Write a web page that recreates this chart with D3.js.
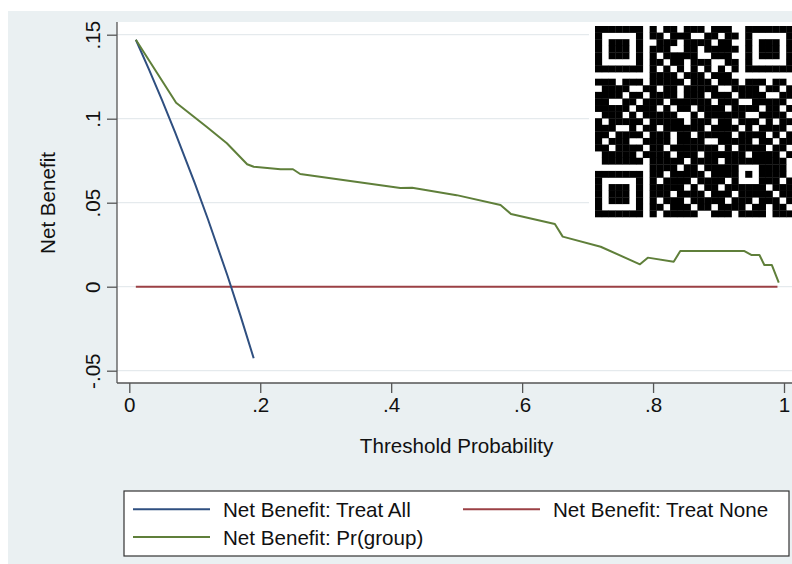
<!DOCTYPE html>
<html>
<head>
<meta charset="utf-8">
<script src="https://cdn.jsdelivr.net/npm/d3@7"></script>
<style>
  html, body { margin: 0; padding: 0; background: #fff; }
  text { font-family: "Liberation Sans", Arial, Helvetica, sans-serif; fill: #111; }
</style>
</head>
<body>
<div id="chart"></div>
<script>
// decision curve values
var treatAllX = [0.01, 0.03, 0.05, 0.07, 0.10, 0.12, 0.15, 0.17, 0.19];
var treatAllY = [0.147, 0.1294, 0.1111, 0.0919, 0.0617, 0.0403, 0.0065, -0.0175, -0.0426];

var treatNoneX = [0.01, 0.99];
var treatNoneY = [0, 0];

var groupX = [0.01, 0.0715, 0.118, 0.149, 0.180, 0.190, 0.231, 0.250, 0.261, 0.414, 0.432, 0.500, 0.567, 0.583, 0.650, 0.662, 0.720, 0.780, 0.792, 0.8315, 0.8416, 0.9396, 0.950, 0.9625, 0.970, 0.9815, 0.992];
var groupY = [0.147, 0.1095, 0.0952, 0.0854, 0.0729, 0.0714, 0.0699, 0.0699, 0.0671, 0.0588, 0.0589, 0.0545, 0.0486, 0.0433, 0.0373, 0.0298, 0.0238, 0.0133, 0.0173, 0.0149, 0.0212, 0.0212, 0.0189, 0.0189, 0.0129, 0.0129, 0.0024];

var xTicks = [0, 0.2, 0.4, 0.6, 0.8, 1];
var xTickLabels = ["0", ".2", ".4", ".6", ".8", "1"];
var yTicks = [-0.05, 0, 0.05, 0.1, 0.15];
var yTickLabels = ["-.05", "0", ".05", ".1", ".15"];

var seriesNames = ["Net Benefit: Treat All", "Net Benefit: Treat None", "Net Benefit: Pr(group)"];
var seriesColors = ["#2f4f80", "#9b4045", "#5f7f3a"];

// qr overlay in the top right corner, one string per module row
var qrRows = [
  "1111111" + "0" + "1011011101110" + "0" + "1111111",
  "1000001" + "0" + "1101110011011" + "0" + "1000001",
  "1011101" + "0" + "0111011110110" + "0" + "1011101",
  "1011101" + "0" + "1110011011111" + "0" + "1011101",
  "1011101" + "0" + "1011111001110" + "0" + "1011101",
  "1000001" + "0" + "1101101110011" + "0" + "1000001",
  "1111111" + "0" + "1010101010101" + "0" + "1111111",
  "00000000" + "1111011101110" + "00000000",
  "111011" + "1" + "0111110111011101110110",
  "011110" + "0" + "1101101111100111101101",
  "111101" + "1" + "0111101110111011110011",
  "110011" + "0" + "1110111111011100111110",
  "111110" + "1" + "1101011011110111101101",
  "011101" + "0" + "1111100101111110011110",
  "101111" + "1" + "0111110111011011101011",
  "111001" + "0" + "1101111110111101011110",
  "110111" + "1" + "0111011011111011110101",
  "101110" + "0" + "1111011110011111011011",
  "110111" + "1" + "0110111111101011110110",
  "011111" + "0" + "1111011101111110111101",
  "011111" + "1" + "0111110111101" + "11111" + "1110",
  "00000000" + "111101101111" + "10001" + "1110",
  "1111111" + "0" + "110111110111" + "10101" + "1110",
  "1000001" + "0" + "101111011110" + "10001" + "1101",
  "1011101" + "0" + "111110101101" + "11111" + "0111",
  "1011101" + "0" + "111011110111" + "011111011",
  "1011101" + "0" + "101110111110" + "111011101",
  "1000001" + "0" + "110111011011" + "110110110",
  "1111111" + "0" + "101111100111" + "011110111"
];

var W = 792, H = 564;
var FS = 20.6;
var svg = d3.select("#chart").append("svg").attr("width", W).attr("height", H);

// graph region and plot region
svg.append("rect").attr("x", 8).attr("y", 11).attr("width", W - 8).attr("height", H - 11).attr("fill", "#eaf0f2");
svg.append("rect").attr("x", 117).attr("y", 22).attr("width", W - 117).attr("height", 383 - 22).attr("fill", "#fff");

var x = d3.scaleLinear().domain([0, 1]).range([129.3, 784]);
var y = d3.scaleLinear().domain([-0.05, 0.15]).range([370.7, 34.7]);

// gridlines
svg.append("g").selectAll("line").data(yTicks).enter().append("line")
  .attr("x1", 117).attr("x2", W)
  .attr("y1", function(d) { return y(d); }).attr("y2", function(d) { return y(d); })
  .attr("stroke", "#e5eaed").attr("stroke-width", 1.2);

// y axis
var yAxis = d3.axisLeft(y).tickValues(yTicks).tickSize(10).tickFormat("");
var gy = svg.append("g").attr("transform", "translate(117,0)").call(yAxis);
gy.select(".domain").attr("d", "M0," + 22 + "V" + 383);
gy.selectAll("path, line").attr("stroke", "#555").attr("stroke-width", 1.3);
gy.selectAll(".tick").append("text")
  .attr("transform", "translate(-17,0) rotate(-90)")
  .attr("text-anchor", "middle")
  .attr("font-size", FS)
  .style("fill", "#111")
  .text(function(d, i) { return yTickLabels[i]; });

// x axis
var xAxis = d3.axisBottom(x).tickValues(xTicks).tickSize(10).tickFormat("");
var gx = svg.append("g").attr("transform", "translate(0,383)").call(xAxis);
gx.select(".domain").attr("d", "M117,0H" + W);
gx.selectAll("path, line").attr("stroke", "#555").attr("stroke-width", 1.3);
gx.selectAll(".tick").append("text")
  .attr("y", 28.7)
  .attr("text-anchor", "middle")
  .attr("font-size", FS)
  .style("fill", "#111")
  .text(function(d, i) { return xTickLabels[i]; });

// axis titles
svg.append("text").attr("transform", "translate(55,203) rotate(-90)")
  .attr("text-anchor", "middle").attr("font-size", FS).text("Net Benefit");
svg.append("text").attr("x", 456.6).attr("y", 453.3)
  .attr("text-anchor", "middle").attr("font-size", FS).text("Threshold Probability");

// series lines
var line = d3.line().x(function(d) { return x(d[0]); }).y(function(d) { return y(d[1]); });
var series = [
  d3.zip(treatAllX, treatAllY),
  d3.zip(treatNoneX, treatNoneY),
  d3.zip(groupX, groupY)
];
var drawOrder = [1, 0, 2];
svg.append("g").selectAll("path").data(drawOrder).enter().append("path")
  .attr("d", function(k) { return line(series[k]); })
  .attr("fill", "none")
  .attr("stroke", function(k) { return seriesColors[k]; })
  .attr("stroke-width", 2)
  .attr("stroke-linejoin", "round");

// qr code
var qrX = d3.scaleBand().domain(d3.range(29)).range([595, 793]);
var qrY = d3.scaleBand().domain(d3.range(29)).range([26, 217]);
svg.append("rect").attr("x", 589).attr("y", 22).attr("width", W - 589).attr("height", 222 - 22).attr("fill", "#fff");
var cells = [];
qrRows.forEach(function(row, r) {
  row.split("").forEach(function(c, k) { if (c === "1") cells.push({ r: r, c: k }); });
});
svg.append("g").selectAll("rect").data(cells).enter().append("rect")
  .attr("x", function(d) { return qrX(d.c); })
  .attr("y", function(d) { return qrY(d.r); })
  .attr("width", qrX.bandwidth() + 0.3)
  .attr("height", qrY.bandwidth() + 0.3)
  .attr("fill", "#000");

// legend
svg.append("rect").attr("x", 124).attr("y", 491).attr("width", 665).attr("height", 65)
  .attr("fill", "#fff").attr("stroke", "#333").attr("stroke-width", 1.2);
var legendPos = [[133, 509.3], [463, 509.3], [133, 537]];
var lg = svg.append("g").selectAll("g").data(seriesNames).enter().append("g")
  .attr("transform", function(d, i) { return "translate(" + legendPos[i][0] + "," + legendPos[i][1] + ")"; });
lg.append("line").attr("x1", 0).attr("x2", 77).attr("y1", 0).attr("y2", 0)
  .attr("stroke", function(d, i) { return seriesColors[i]; }).attr("stroke-width", 2);
lg.append("text").attr("x", 90).attr("y", 8).attr("font-size", FS).text(function(d) { return d; });
</script>
</body>
</html>
